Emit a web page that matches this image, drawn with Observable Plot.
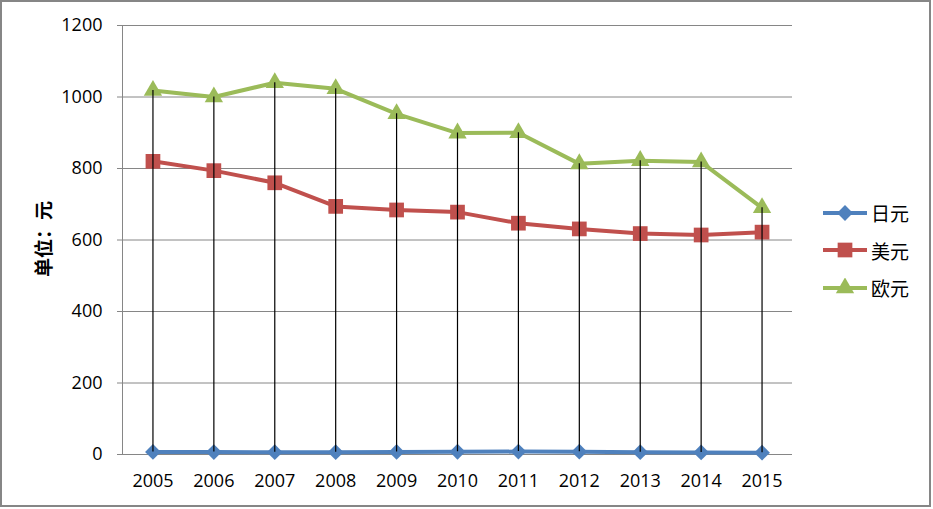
<!DOCTYPE html>
<html>
<head>
<meta charset="utf-8">
<script src="https://cdn.jsdelivr.net/npm/d3@7"></script>
<script src="https://cdn.jsdelivr.net/npm/@observablehq/plot@0.6"></script>
<style>
  html, body { margin: 0; padding: 0; background: #fff; }
  #wrap { position: relative; width: 933px; height: 509px; overflow: hidden; }
  #frame { position: absolute; left: 0; top: 0; width: 927px; height: 503px; border: 2px solid #868686; pointer-events: none; }
  #legend { position: absolute; left: 822px; top: 194px; font-family: "Noto Sans CJK SC", sans-serif; font-size: 19px; color: #000; }
  .item { display: flex; align-items: center; height: 37.5px; }
  .item svg { margin-right: 3px; }
  #ylab { position: absolute; left: 42px; top: 239px; transform: translate(-50%, -50%) rotate(-90deg); font-family: "Noto Sans CJK SC", sans-serif; font-size: 19px; font-weight: bold; white-space: nowrap; }
</style>
</head>
<body>
<div id="wrap">
  <div id="chart"></div>
  <div id="ylab">单位：元</div>
  <div id="legend"></div>
  <div id="frame"></div>
</div>
<script>
const years = ["2005","2006","2007","2008","2009","2010","2011","2012","2013","2014","2015"];
const jpy = [7.3, 6.9, 6.4, 6.6, 7.3, 7.7, 8.1, 7.9, 6.5, 5.8, 5.0];
const usd = [820, 794, 760, 694, 684, 678, 647, 631, 618, 614, 622];
const eur = [1018, 1000, 1040, 1023, 953, 899, 900, 813, 822, 818, 690];
const seriesNames = ["日元", "美元", "欧元"];
const seriesColors = ["#4F81BD", "#C0504D", "#9BBB59"];
const seriesSymbols = ["diamond2", "square", "triangle"];
const symbolR = [7.1, 8.3, 6.8];
const yTicks = [0, 200, 400, 600, 800, 1000, 1200];

const allValues = [jpy, usd, eur];
const rows = [];
allValues.forEach((vals, s) => vals.forEach((v, i) => rows.push({year: years[i], value: v, series: seriesNames[s]})));
const hilo = years.map((y, i) => ({year: y, lo: Math.min(jpy[i], usd[i], eur[i]), hi: Math.max(jpy[i], usd[i], eur[i])}));

const plot = Plot.plot({
  width: 933,
  height: 509,
  marginLeft: 122,
  marginRight: 141,
  marginTop: 25,
  marginBottom: 55,
  style: {fontFamily: "'Open Sans', sans-serif", fontSize: "18px", color: "#000", background: "transparent"},
  x: {type: "point", domain: years, padding: 0.5, round: false, label: null},
  y: {domain: [0, 1200], label: null},
  marks: [
    Plot.ruleY(yTicks, {stroke: "#868686", strokeWidth: 1, strokeOpacity: 1}),
    Plot.axisY(yTicks, {tickSize: 5, tickPadding: 15, stroke: "#868686", fill: "#000", fontSize: 18, tickFormat: d => String(d), label: null}),
    Plot.axisX({tickSize: 0, tickPadding: 20, fill: "#000", fontSize: 18, label: null}),
    Plot.ruleX([0], {x: null, stroke: "#868686", render: (index, scales, values, dims) => {
      const g = d3.create("svg:g");
      g.append("line").attr("x1", dims.marginLeft + 0.5).attr("x2", dims.marginLeft + 0.5)
        .attr("y1", scales.y(1200)).attr("y2", scales.y(0)).attr("stroke", "#868686");
      return g.node();
    }}),
    ...seriesNames.map((name, s) => Plot.line(rows.filter(d => d.series === name), {x: "year", y: "value", stroke: seriesColors[s], strokeWidth: 4})),
    ...seriesNames.map((name, s) => Plot.dot(rows.filter(d => d.series === name), {x: "year", y: "value", fill: seriesColors[s], stroke: "none", symbol: seriesSymbols[s], r: symbolR[s]})),
    Plot.ruleX(hilo, {x: "year", y1: "lo", y2: "hi", stroke: "#000", strokeWidth: 1.2})
  ]
});
document.getElementById("chart").appendChild(plot);

const legend = document.getElementById("legend");
const symMap = {diamond2: d3.symbolDiamond2, square: d3.symbolSquare, triangle: d3.symbolTriangle};
seriesNames.forEach((name, s) => {
  const item = document.createElement("div");
  item.className = "item";
  const svg = d3.create("svg").attr("width", 46).attr("height", 20);
  svg.append("line").attr("x1", 1).attr("x2", 45).attr("y1", 10).attr("y2", 10).attr("stroke", seriesColors[s]).attr("stroke-width", 4);
  svg.append("path").attr("transform", "translate(23,10)")
    .attr("d", d3.symbol(symMap[seriesSymbols[s]], Math.PI * symbolR[s] * symbolR[s])())
    .attr("fill", seriesColors[s]);
  item.appendChild(svg.node());
  const t = document.createElement("span");
  t.textContent = name;
  item.appendChild(t);
  legend.appendChild(item);
});
</script>
</body>
</html>
